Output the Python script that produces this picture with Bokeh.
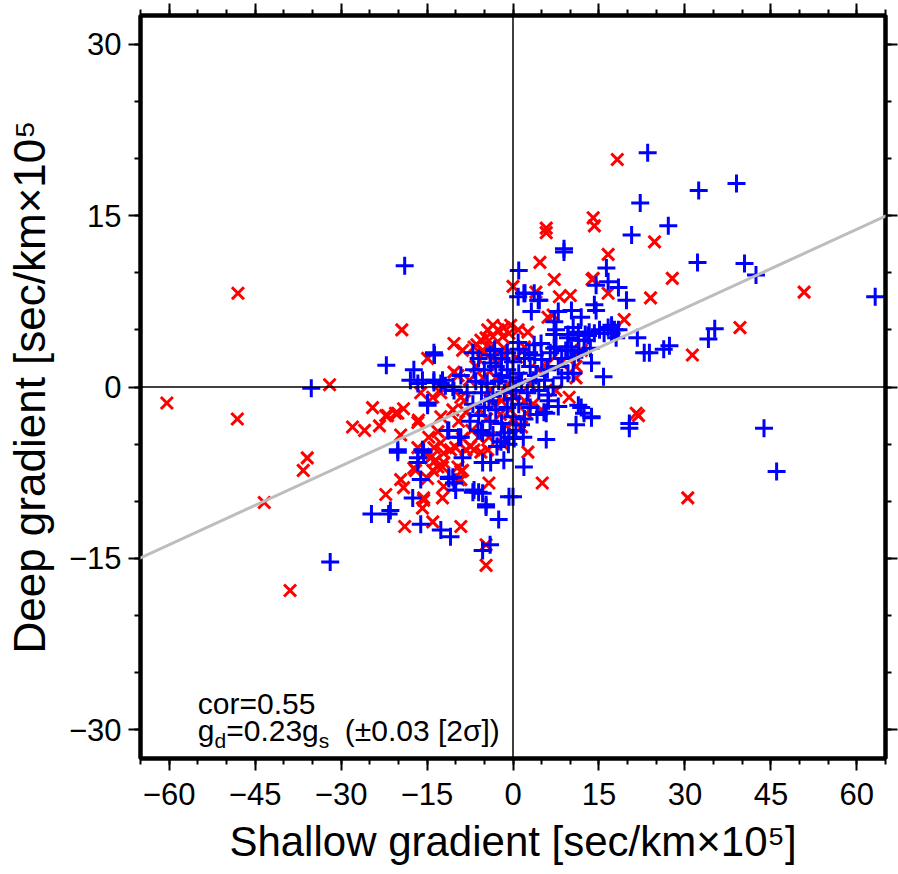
import numpy as np
from bokeh.plotting import figure
from bokeh.models import Range1d, LinearAxis, FixedTicker, Span, Slope, Label
from bokeh.embed import file_html
from bokeh.resources import INLINE

# ---------------- data ----------------
red_x = [-48.0, -32.0, -60.4, -48.1, -24.5, -22.2, -28.0, -25.9, -23.3, -35.9, -36.6, -43.4, -22.2, -38.9,
         -19.4, -10.3, -8.8, -6.3, -14.9, -10.3, -9.6,
         -6.8, -5.6, -4.4, -3.5, -2.6, -1.6, -0.4, -4.7, -3.5, -1.8, -0.7, 0.9, 2.6, -5.3, -2.6, -1.6,
         0.0, 4.7, 16.6, 7.2, 4.0, 8.1, 10.0, 14.0, 16.6, 6.1, 7.0, 8.4, 11.0, 7.5, 9.8, 2.6, 5.1,
         -4.7, -4.7, -14.0, -9.1, -18.9, -19.6, -19.1, -15.6, -15.8, -12.3, -4.2, -9.1, -8.8, -17.0,
         -13.1, -12.1, -14.4, -13.8, -12.6, -12.1, -10.9, -19.6, -16.6, -14.7, -13.1, -10.0, -8.2, -7.4,
         -6.8, -5.6, -4.4, -21.9, -20.5, -19.1, -16.6, -16.1, -14.0, -12.6, -12.6, -9.1, -16.5, -20.1,
         18.2, 5.8, 5.8, 14.0, 14.2, 13.8, 19.4, 11.9, 11.0, 24.7, 27.8, 24.0, 50.8, 39.6, 31.3, 21.9,
         30.5, 21.5, 2.3, -15.6, -13.5, -12.3, -14.0, -9.6, -9.1, -17.3, -14.9, -9.5, -12.1, -15.6,
         -6.5, -5.2, -4.0, -3.0, -2.0, -1.0, 0.0, 1.0, 2.0, 3.0, -5.8, -4.6, -3.4, -2.2, -1.2, 0.2,
         -7.2, -6.0, -4.2, -8.2, -7.6, -2.6, -1.6, 0.6, 2.0, 3.5, 4.5, -0.5, 1.5, -3.8, -5.0, -8.5,
         -9.5, -10.5, -8.8, 5.0, 6.0, -1.8]
red_y = [8.2, 0.2, -1.4, -2.8, -1.8, -2.5, -3.5, -3.8, -3.4, -6.2, -7.3, -10.1, -9.4, -17.8,
         5.0, 3.8, 3.2, 3.7, 2.5, 1.3, 1.0,
         3.5, 4.1, 5.0, 5.4, 5.0, 5.2, 5.4, 4.3, 4.4, 4.4, 4.7, 5.0, 4.8, 3.2, 3.0, 3.4,
         8.8, 10.9, 11.6, 9.4, 8.3, 7.9, 8.0, 9.5, 8.2, 6.1, 6.3, 2.1, 0.8, -0.3, -0.9, -5.7, -8.4,
         -13.8, -15.6, -11.8, -12.2, -12.2, -8.1, -8.8, -9.9, -10.6, -9.7, -8.4, -8.1, -7.3, -7.3,
         -7.0, -6.6, -6.2, -5.3, -4.9, -5.8, -5.5, -4.2, -5.3, -4.4, -3.9, -5.3, -5.5, -5.2,
         -5.5, -5.7, -5.5, -2.5, -2.3, -1.9, -3.1, -0.5, -0.9, -0.5, -2.6, -0.9, -2.9, -2.3,
         19.9, 13.9, 13.5, 14.8, 14.1, 9.4, 5.9, 3.2, 1.8, 12.7, 9.5, 7.8, 8.3, 5.2, 2.8, -2.5,
         -9.7, -2.3, -2.3, -5.9, -6.4, -7.0, -7.3, -7.0, -7.4, -7.1, -8.0, -8.1, -8.7, -9.7,
         1.8, 0.8, -0.3, 0.8, -1.2, 0.2, -0.8, 0.8, -1.2, 0.2, -2.0, -2.8, -1.6, -2.4, -3.4, -3.0,
         -3.8, -4.4, -4.4, -2.2, 0.6, 2.0, 2.8, 2.6, 3.5, -1.5, 1.5, -2.0, -3.5, 3.5, 3.0, -1.2,
         -3.0, -2.0, -4.5, -2.0, 2.0, -5.0]

blue_x = [-35.2, -24.7, -21.7, -31.9, -22.1, -18.9, 1.0, 1.9, 0.9, -13.7, -7.0, -3.3, -17.3, -17.9,
          -15.8, -13.8, -12.3, -9.1, -3.9,
          8.9, 2.1, 3.7, 4.6, 16.3, 16.6, 14.5, 14.2, 14.5, 3.2, 7.9, 10.2, 11.9, 7.2, 7.5, 10.5, 13.1,
          14.2, 16.6, 17.7, 9.6, 11.4, 12.4, 9.6, 10.2, 11.4, 10.7, 13.7, 10.5, 15.8, 6.1, 7.9, 5.8,
          11.4, 12.4, 13.7, 11.0, 5.8, 1.9, 0.0, -2.5, -4.7, -5.3, -4.0, -10.9, -12.6, -16.1, -17.5,
          -10.0, -10.3, -11.2, -6.8, -5.3, -16.1, -16.6, -15.8, -20.1, -11.4, -9.5, -8.8, -5.3, -3.9,
          -1.6, -6.1, -5.3, -2.1, -0.7, -14.9, -10.3, -16.6, -13.8, -12.6, -10.5, -13.8, 0.9, 3.7, 4.9,
          23.5, 32.4, 39.0, 22.2, 27.1, 20.7, 32.2, 40.4, 42.4, 63.2, 35.2, 34.1, 21.7, 22.9, 23.8,
          26.3, 27.3, 20.3, 20.3, 43.8, 46.0, 8.9, 4.4, 18.4, 19.8, 13.3, 15.1, 17.2, 18.4, 17.2, 15.9,
          18.0, 7.2, 9.6, 11.4, 12.6, 7.2, 9.2, 11.5, 13.5, 7.9, 9.6, 11.9, 13.7, 5.4, 1.4, 0.2, -0.7,
          -4.7, -7.0, -6.0, -15.6, -16.6, -11.2, -9.1, -14.9, -11.8, -21.4, -20.1, -11.2, -10.5,
          -6.0, -5.0, -4.0, -3.0, -2.0, -1.0, 0.0, 1.0, 2.0, 3.0, 4.0, 5.0, 6.0, -6.5, -5.5, -4.5,
          -3.5, -2.5, -1.5, -0.5, 0.5, 1.5, 2.5, 3.5, 4.5, -7.0, -6.0, -5.0, -4.0, -3.0, -2.0, -1.0,
          0.0, 1.0, 2.0, 3.0, -5.5, -3.5, -1.5, 0.5, -2.0, -1.0, 1.0, 2.8, -3.2, -0.2, -4.2, 3.8, 5.5,
          6.5, -8.0, -7.5, 6.2, 4.2, -2.8, -0.8, 1.8, 7.0, -6.8, 8.5, 8.5, 7.5]
blue_y = [-0.1, -11.1, -11.1, -15.3, 1.9, 10.6, 10.2, 8.2, 7.9, 2.8, 3.0, 3.2, 1.5, 0.6,
          0.6, 0.6, 0.6, 1.0, 2.1,
          11.8, 8.2, 8.2, 7.6, 10.4, 9.2, 8.9, 7.2, 6.7, 6.6, 6.6, 6.7, 6.1, 5.7, 5.0, 5.2, 4.5,
          4.7, 5.2, 5.0, 4.3, 4.1, 4.1, 3.5, 3.2, 3.0, 2.6, 2.1, 1.2, 0.9, -0.7, -1.7, -2.3,
          -1.6, -2.3, -2.7, -3.3, -4.6, -7.0, -9.6, -11.6, -10.5, -14.3, -13.8, -13.1, -12.5, -12.0, -9.7,
          -9.0, -8.4, -7.9, -9.0, -9.3, -8.1, -6.2, -5.5, -5.5, -3.8, -4.4, -6.2, -6.6, -6.6,
          -6.4, -3.8, -4.0, -4.8, -4.4, -1.4, -0.3, 0.3, 0.4, 0.3, 0.0, 3.0, 3.9, 3.7, 3.8,
          20.5, 17.2, 17.8, 16.1, 14.1, 13.3, 10.9, 10.8, 9.8, 7.9, 5.1, 4.2, 4.3, 3.0, 3.0,
          3.3, 3.6, -3.2, -3.6, -3.6, -7.4, 12.1, 7.6, 8.7, 7.6, 4.8, 5.0, 5.4, 5.0, 4.7, 4.7,
          4.3, 4.6, 4.6, 4.8, 4.6, 3.4, 3.2, 3.2, 3.4, 1.8, 1.2, -1.8, -2.6, -2.2, -3.3, -4.5, -9.6,
          -10.3, -9.2, -9.2, -5.7, -6.6, -3.8, -4.4, -1.6, 0.1, -10.8, -5.7, -8.0, -7.9,
          2.5, 1.5, 2.8, 1.8, 2.5, 1.5, 2.2, 1.2, 2.5, 1.8, 1.0, 2.4, 1.5, 0.5, -0.5, 0.3,
          -0.8, 0.5, -0.5, 0.8, -0.3, 0.5, -0.5, 0.6, -0.3, -1.5, -2.5, -1.8, -3.0, -2.0, -3.2, -1.8,
          -2.6, -1.5, -2.8, -1.8, -3.8, -4.2, -4.0, -3.8, 1.0, 3.0, 3.3, 3.0, 3.3, -1.0, -1.2, 2.8, 0.6,
          3.0, -0.5, -3.0, -1.2, -2.4, -5.2, -5.0, -4.4, 0.0, 1.5, 2.5, 0.8, 3.5]

slope = 0.23          # g_d = 0.23 g_s
x_range = (-65, 65)
y_range = (-32.5, 32.5)
x_ticks = [-60, -45, -30, -15, 0, 15, 30, 45, 60]
x_tick_labels = ["−60", "−45", "−30", "−15", "0", "15", "30", "45", "60"]
x_minor = list(range(-65, 66, 5))
y_ticks = [-30, -15, 0, 15, 30]
y_tick_labels = ["−30", "−15", "0", "15", "30"]
y_minor = list(range(-30, 31, 5))
x_title = "Shallow gradient [sec/km×10⁵]"
y_title = "Deep gradient [sec/km×10⁵"

FONT = "Liberation Sans"

p = figure(width=898, height=874, output_backend="svg", toolbar_location=None,
           x_range=Range1d(*x_range), y_range=Range1d(*y_range),
           min_border_left=140, min_border_right=13, min_border_top=15, min_border_bottom=116)
p.xgrid.visible = False
p.ygrid.visible = False
p.outline_line_color = "black"
p.outline_line_width = 4
p.background_fill_color = "white"
p.border_fill_color = "white"

top_ax = LinearAxis()
right_ax = LinearAxis()
p.add_layout(top_ax, "above")
p.add_layout(right_ax, "right")
bottom_ax = p.below[0]
left_ax = p.left[0]

xt = FixedTicker(ticks=x_ticks, minor_ticks=x_minor)
yt = FixedTicker(ticks=y_ticks, minor_ticks=y_minor)

for ax in (bottom_ax, top_ax):
    ax.ticker = xt
    ax.major_label_overrides = {t: l for t, l in zip(x_ticks, x_tick_labels)}
for ax in (left_ax, right_ax):
    ax.ticker = yt
    ax.major_label_overrides = {t: l for t, l in zip(y_ticks, y_tick_labels)}

for ax in (bottom_ax, top_ax, left_ax, right_ax):
    ax.axis_line_width = 4
    ax.axis_line_color = "black"
    ax.major_tick_out = 12
    ax.major_tick_in = 0
    ax.minor_tick_out = 6
    ax.minor_tick_in = 0
    ax.major_tick_line_width = 2
    ax.minor_tick_line_width = 2
    ax.major_tick_line_color = "black"
    ax.minor_tick_line_color = "black"
    ax.major_label_text_font = FONT
    ax.major_label_text_font_size = "31px"
    ax.major_label_text_color = "black"
    ax.major_label_standoff = 7
    ax.axis_label_text_font = FONT
    ax.axis_label_text_font_size = "42px"
    ax.axis_label_text_font_style = "normal"
    ax.axis_label_text_color = "black"

bottom_ax.axis_label = x_title
bottom_ax.major_label_standoff = 12
bottom_ax.axis_label_standoff = 10
left_ax.axis_label = y_title
left_ax.axis_label_text_font_size = "44px"
left_ax.axis_label_standoff = 12
left_ax.major_label_orientation = "horizontal"

# top / right axes: ticks only, no labels drawn
for ax in (top_ax, right_ax):
    ax.major_label_text_font_size = "0px"
    ax.major_label_text_color = None
    ax.major_label_standoff = 0

# zero lines and fit line
p.add_layout(Span(location=0, dimension="height", line_color="black", line_width=1.5))
p.add_layout(Span(location=0, dimension="width", line_color="black", line_width=1.5))
p.add_layout(Slope(gradient=slope, y_intercept=0, line_color="#bdbdbd", line_width=3))

p.scatter(red_x, red_y, marker="x", size=17, line_color="#ff0000", line_width=3)
p.scatter(blue_x, blue_y, marker="cross", size=18, line_color="#0000ff", line_width=3)

# annotation
ax0, y1, y2, ysub = -55.0, -27.65, -30.05, -30.95
big, small = "30px", "21px"
def lab(text, y, off, size):
    p.add_layout(Label(x=ax0, y=y, x_offset=off, text=text, text_font=FONT, text_font_size=size,
                       text_color="black", text_baseline="alphabetic", text_align="left"))
lab("cor=0.55", y1, 0, big)
lab("g", y2, 0, big)
lab("d", ysub, 16.7, small)
lab("=0.23g", y2, 28.4, big)
lab("s", ysub, 121, small)
lab("(±0.03 [2σ])", y2, 147, big)

open("out.html", "w").write(file_html(p, INLINE))
